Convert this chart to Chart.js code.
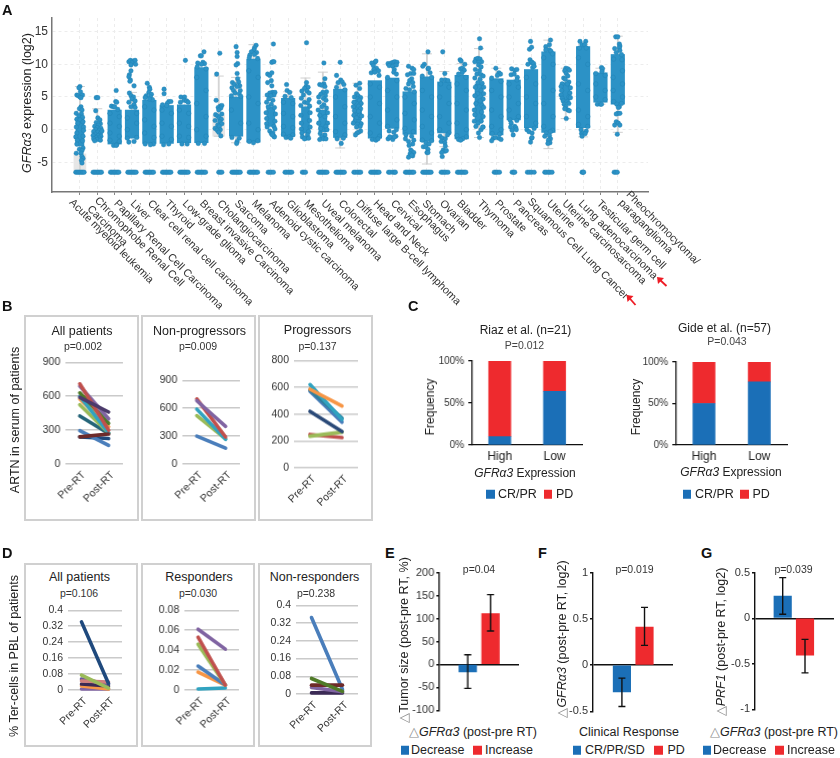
<!DOCTYPE html>
<html>
<head>
<meta charset="utf-8">
<title>GFRa3 figure</title>
<script src="https://cdn.jsdelivr.net/npm/chart.js@4/dist/chart.umd.min.js"></script>
<style>
  html, body { margin: 0; padding: 0; background: #fff; }
  #page { position: relative; width: 840px; height: 758px; overflow: hidden; font-family: "Liberation Sans", Arial, sans-serif; color: #222; }
  #page canvas { position: absolute; }
  .txt { position: absolute; white-space: nowrap; transform: translate(-50%, -50%); line-height: 1; }
  .rot { transform: translate(-50%, -50%) rotate(-90deg); }
  .letter { position: absolute; font-weight: bold; font-size: 14.5px; line-height: 1; color: #111; }
  .frame { position: absolute; border: 2px solid #d0d0d0; box-sizing: border-box; }
  .swatch { position: absolute; width: 8.5px; height: 8.5px; transform: translateY(-50%); }
  .legend-txt { position: absolute; transform: translateY(-50%); font-size: 12.5px; line-height: 1; white-space: nowrap; }
  .delta { color: #8a8a8a; }
  svg { position: absolute; left: 0; top: 0; }
</style>
</head>
<body>
<div id="page"></div>
<script>
// Panel A
const cancerTypes = ["Acute myeloid leukemia", "Chromophobe Renal Cell|Carcinoma", "Papillary Renal Cell Carcinoma", "Liver",
  "Clear cell renal cell carcinoma", "Thyroid", "Low-grade glioma", "Breast invasive Carcinoma", "Cholangiocarcinoma", "Sarcoma",
  "Melanoma", "Adenoid cystic carcinoma", "Glioblastoma", "Mesothelioma", "Uveal melanoma", "Colorectal", "Diffuse large B-cell lymphoma",
  "Head and Neck", "Cervical", "Esophagus", "Stomach", "Ovarian", "Bladder", "Thymoma", "Prostate", "Pancreas", "Squamous Cell Lung Cancer",
  "Uterine", "Uterine carcinosarcoma", "Lung adenocarcinoma", "Testicular germ cell", "Pheochromocytoma/|paraganglioma"];
const expressionTicks = [15, 10, 5, 0, -5];
const undetectedLevel = -6.5;

// dense part of each strip, [low, high]
const denseStrips = [null, null, [-2.2, 3], [-1.3, 3], [-2.1, 4.5], [-2.1, 3.7], [-2, 3.8], [-2, 9.5], null, [-1, 5], [-1.9, 10.8], null,
  [-1, 4.8], null, null, [-1.2, 6.2], null, [-1.3, 7.5], [0.2, 7.9], [-0.7, 5.8], [-1.8, 8.1], [-0.5, 7.3], [-1.4, 8.3], null, [-0.8, 7.8],
  [1.5, 7.6], [0.3, 9.2], [-0.4, 11.9], null, [0.3, 12.7], [4.2, 8.7], [3.9, 11.5]];
const thinStrips = [[-2.5, 1.8], null, null, null, null, null, null, null, null, null, null, [0.5, 3.5], null, [-0.5, 3.5], [-0.3, 3], null,
  [1.5, 4.5], null, null, null, null, null, null, [1.2, 7], null, null, null, null, [4.5, 7.2], null, null, null];

// individual samples around the strips, [offset inside the strip, log2 expression]
const stripSamples = [
  [[0,6.6],[-.1,6.4],[.05,5.8],[-.3,5.3],[-.15,5.2],[0,5],[.25,5.3],[.1,4.9],[.1,3.5],[-.05,3.2],[.2,3],[-.35,2.5],[.15,2.4],[-.1,2.1],[.25,1.9],[-.3,1.6],[0,1.5],[.3,1.2],[-.2,1],[.35,.4],[-.35,.4],[.35,-.1],[-.3,-.5],[.3,-1],[-.4,-1.1],[-.25,-1.6],[.25,-1.7],[-.3,-2.2],[.3,-2.8],[-.05,-3],[.2,-3.2],[-.35,-3.6],[.1,-3.6],[.2,-4.1],[.3,-4.4],[.15,-4.7],[.2,-5.1]],
  [[-.1,4.9],[.05,4.9],[-.15,2.9],[.05,1.8],[.25,1.5],[-.1,1.1],[.3,.9],[.1,.7],[-.25,.5],[0,.3],[.35,.2],[-.15,0],[.2,-.1],[-.35,-.3],[.05,-.4],[.3,-.6],[-.2,-.7],[-.4,-.9],[.1,-.9],[.35,-1],[-.1,-1.2],[.2,-1.3],[-.35,-1.4],[0,-1.5],[-.25,-1.7],[.3,-1.6],[.45,-.2]],
  [[.15,6],[.1,4.3],[.2,4.2],[-.3,3.6],[-.1,3.5],[0,3.5],[.3,3.1],[-.45,2.5],[.45,2],[-.45,1],[.45,.5],[-.45,-.5],[.45,-1],[-.45,-1.6],[.45,-1.8],[.2,-2.3],[-.1,-2.4],[.15,-2.4]],
  [[-.3,10.4],[-.15,10.6],[.1,10.5],[.3,10.6],[0,10.2],[-.1,9.9],[.35,10],[-.1,9],[-.25,8.4],[-.3,8.1],[-.15,7.6],[-.2,7.4],[.2,6.7],[-.25,5.6],[-.1,5.2],[.15,5],[0,4.7],[.3,4.4],[-.3,4.2],[.2,3.8],[-.1,3.5],[.3,3.4],[-.3,-1.9],[.2,-1.8],[-.45,-1.3],[.45,-1.2],[-.45,0],[.45,1],[-.45,1.8],[.45,2.5]],
  [[-.2,7.1],[0,6.5],[.05,6.2],[-.05,5.7],[.2,5.4],[-.3,5.2],[.1,5],[-.4,4.9],[.3,4.6],[0,4.7],[-.45,3.5],[.45,3],[-.45,1.5],[.45,.5],[-.45,-.5],[.45,-1.2],[-.4,-2.2],[.4,-2.2],[.1,-2.3]],
  [[-.25,6.2],[-.25,5.5],[.2,4.3],[.4,4.3],[.05,4],[-.4,3.8],[0,3.7],[-.45,3],[.45,2.5],[-.45,1],[.45,.5],[-.45,-1],[.45,-1.5],[-.3,-2.3],[.2,-2.2]],
  [[.13,10.6],[-.3,5],[.05,5],[0,4.5],[.25,4.4],[-.35,4.2],[.4,4.2],[-.45,3],[.45,2.5],[-.45,1],[.45,.5],[-.45,-1],[.45,-1.2],[-.2,-2.2],[.3,-2.2]],
  [[.25,11.9],[-.1,11.3],[0,11.3],[.15,10.3],[-.35,10.2],[.3,10.1],[0,10],[-.4,9.6],[.45,9.3],[-.45,8],[.45,6],[-.45,4],[.45,2],[-.45,0],[.45,-1],[-.3,-2.1],[.3,-2.1]],
  [[.1,11.7],[-.2,8.5],[-.25,4.5],[.15,3.6],[.3,3.7],[-.05,3.4],[.2,3.3],[0,3],[.3,2.4],[-.3,2.3],[-.1,2.1],[.05,1.8],[.25,1.6],[-.35,1.4],[.1,1.2],[.3,.9],[-.1,.7],[.05,.5],[-.35,.2],[.15,0],[-.15,-.1],[0,-.4],[.2,-.95]],
  [[0,12.7],[.1,11.8],[.1,11.2],[.15,10.1],[0,9.9],[.1,8.6],[.15,7.8],[-.35,7.2],[.25,7.3],[-.15,6.9],[.35,6.7],[-.4,6.4],[.1,6.6],[-.25,6],[.4,6],[-.1,5.6],[.3,5.5],[-.45,5.2],[.45,5.1],[-.45,3],[.45,1],[-.4,-1.2],[.3,-1.3],[.1,-1.8],[.05,-2.1]],
  [[.25,12.9],[.1,12.5],[.05,12.2],[-.2,11.9],[.3,11.8],[-.35,11.4],[.1,11.5],[-.4,11],[.4,10.9],[-.45,9],[.45,8],[-.45,5],[.45,4],[-.45,1],[.45,0],[-.4,-1.8],[.4,-1.7],[0,-2]],
  [[.25,13.1],[.2,10.4],[.1,10.3],[.3,10.4],[-.3,8.5],[-.1,8.3],[.1,8.7],[.05,7.5],[-.3,7.2],[.1,6.7],[.15,5.7],[-.1,5.6],[.4,5.7],[-.35,5.3],[.3,5.3],[0,5.2],[-.2,4.7],[.2,4.5],[-.4,4.2],[.05,3.9],[-.25,3.5],[.35,3.4],[-.45,2.6],[.45,2.4],[-.4,1.7],[.4,1.3],[-.4,.9],[.3,.5],[-.35,.4],[.4,.1],[-.1,-.2],[.05,-.6],[.2,-.5],[.3,-1],[.35,-1.1],[.15,-.8]],
  [[-.15,6.9],[-.1,6],[.15,5.7],[-.3,5.1],[.3,4.9],[-.45,4.2],[.45,4],[-.45,2.5],[.45,2],[-.45,.5],[.45,.3],[-.45,-.7],[.45,-.8],[-.2,-1.2],[.1,-1.1],[.25,-1.3]],
  [[.1,13.3],[.1,7.2],[.05,6.6],[.25,6.5],[-.1,6.3],[-.35,5.9],[.15,5.9],[.35,5.6],[-.2,5.3],[-.4,4.8],[.35,4.6],[-.1,4.2],[.2,4.1],[-.45,3.7],[.4,3.6],[.45,2.6],[-.45,2.2],[.4,1.4],[-.4,1],[.45,.4],[-.4,.1],[.3,-.3],[-.35,-.5],[.2,-.8],[-.3,-1.1],[.05,-1.3],[-.1,-1.4],[.3,-1.3]],
  [[.1,10.2],[.2,7.8],[.1,7],[-.3,6.9],[-.1,6.8],[.2,6.6],[.35,5.8],[0,5.7],[-.2,5.4],[.25,5.2],[-.4,5],[.05,4.8],[.3,4.5],[-.35,4.2],[.1,3.8],[-.1,3.5],[.35,3.3],[-.45,3],[.45,2.6],[-.3,2.2],[.2,2],[.45,1],[-.4,1],[.3,.5],[-.2,.2],[.4,0],[-.25,-.6],[.2,-.8],[-.1,-1.1],[-.3,-1.5],[.05,-1.4],[.3,-1.4]],
  [[0,10.3],[-.35,8.3],[.05,7.6],[-.2,7.2],[.2,7.3],[.35,6.9],[-.35,6.5],[.45,6.1],[-.45,5],[.45,3.5],[-.45,2],[.45,1],[-.45,-.3],[.45,-.8],[-.3,-1.4],[.3,-1.3],[.1,-2.1]],
  [[.2,7.1],[-.15,6.8],[.2,6.3],[-.1,5.5],[.05,5.2],[-.3,5],[.3,4.9],[0,4.7],[-.35,4.2],[.2,4.5],[.35,4],[-.4,3.5],[.1,3.6],[.3,3.2],[-.3,2.9],[.1,2.8],[.2,2.2],[-.35,2.2],[.4,2.1],[-.1,1.8],[-.25,1.3],[.15,1.2],[.35,.9],[-.4,1],[0,.8],[.25,.5],[-.1,.4],[.3,-.2],[.1,-.4],[-.05,-.5],[-.2,-.8]],
  [[0,10.3],[-.3,10.2],[.1,10.5],[-.15,9.8],[.15,9.4],[-.1,9.2],[.35,9],[-.35,8.7],[.4,8.3],[0,8.8],[-.45,7],[.45,6.5],[-.45,5],[.45,4],[-.45,2],[.45,1],[-.45,-.5],[.45,-1],[-.25,-1.5],[.1,-1.6],[.3,-1.4]],
  [[-.4,10.1],[-.1,10.2],[.1,10.3],[.25,10.4],[.45,10.3],[-.3,9.8],[.05,9.7],[.4,9.9],[.2,9.2],[.15,8.8],[.4,8.5],[-.45,8],[.45,7.5],[-.45,6],[.45,5],[-.45,3],[.45,1.5],[-.45,.5],[.4,0],[-.3,-.2],[.15,-.4],[.35,-1],[-.4,-1.4],[-.1,-1.2],[.05,-1.5],[.2,-1.1],[-.25,-1.1]],
  [[-.1,9.7],[.25,9.4],[.4,9.2],[.1,8.6],[.4,8.6],[-.2,8.4],[.2,7.8],[0,7.5],[.3,7.2],[-.1,7],[.35,6.6],[-.35,6.3],[0,6.1],[.45,5.8],[-.45,5],[.45,4],[-.45,2.5],[.45,1.5],[-.45,.2],[.35,-.3],[-.35,-.8],[.2,-1],[-.4,-1.4],[.4,-1.6],[-.1,-1.8],[.3,-2.2],[-.05,-2.4],[.1,-3.1],[.2,-3.3],[.4,-3.5],[.05,-3.7],[.3,-4],[-.1,-4.2],[.2,-3.9]],
  [[.1,11.9],[-.25,10],[-.4,9.7],[.1,9.3],[.15,9.4],[.3,8.7],[-.45,8.2],[.45,8],[-.45,6],[.45,5],[-.45,3],[.45,2],[-.45,.5],[.45,-.5],[-.45,-1.6],[.45,-1.7],[-.1,-2],[.2,-2.2],[-.35,-2.6],[-.1,-2.6],[.1,-3],[0,-3.5],[.1,-3.5]],
  [[-.15,11.9],[.05,8.6],[-.25,7.6],[.1,7.6],[.35,7.5],[-.35,7],[.45,6.5],[-.45,5],[.45,4],[-.45,2],[.45,1],[-.45,0],[.45,-.5],[-.4,-1],[.3,-.8],[-.2,-1.3],[.1,-1.4],[-.3,-1.8],[.05,-2],[.1,-2.5],[-.1,-3.1],[.05,-3.3],[.2,-3.2],[-.25,-3.5],[-.2,-4.1]],
  [[-.15,10.7],[-.05,10.5],[.3,10],[-.1,9.3],[.1,9.4],[.25,9.1],[.05,8.7],[-.3,8.5],[.4,8],[-.45,7],[.45,6],[-.45,4],[.45,3],[-.45,1],[.45,0],[-.45,-.9],[.45,-1.1],[-.3,-1.5],[.1,-1.4],[-.1,-1.6]],
  [[.05,13.9],[.15,12.5],[-.3,10.8],[-.1,10.9],[.1,10.8],[-.4,10.4],[.25,10.4],[0,10.3],[-.05,9.9],[.2,9.6],[-.35,9.2],[.05,9],[-.2,8.5],[.2,8.4],[.4,8.2],[-.4,7.9],[.1,7.7],[-.1,7.2],[.3,7.1],[.45,6.5],[-.35,6.5],[.2,6],[-.15,5.5],[.45,5.5],[-.4,5.2],[.4,4.7],[.1,4.4],[-.3,4],[.3,3.7],[.45,3.4],[-.45,3],[.25,2.7],[-.4,2.3],[.4,2],[-.45,1.3],[.2,1.3],[-.1,1],[.4,.4],[-.3,.5],[.2,0],[-.05,-.5],[.35,.4],[.05,-1.2]],
  [[-.05,9.4],[.25,8.7],[.4,8.5],[.1,8.3],[-.45,7.9],[.45,7.4],[-.45,6],[.45,5],[-.45,3],[.45,2],[-.45,.5],[.45,0],[-.4,-.6],[.3,-.7],[-.3,-1.3],[.25,-1.3],[-.1,-1.2],[.45,-1.5],[-.45,-1.7]],
  [[-.2,9.3],[.1,9.1],[.3,9.2],[-.25,8.4],[.05,8.5],[.35,8],[.3,7.6],[-.45,7],[.45,6.5],[-.45,5],[.45,4],[-.45,3],[.45,2],[-.35,1.5],[.3,1.4],[-.25,1],[.1,.5],[-.3,.4],[.2,.3],[-.15,-.1],[.25,0],[-.05,-.8]],
  [[-.05,13.5],[-.15,12.3],[.05,12.6],[-.1,10.7],[0,10.3],[.1,10.3],[.25,10.1],[-.3,10],[.15,9.5],[.3,9.7],[-.45,8],[.45,7],[-.45,5],[.45,4],[-.45,2],[.45,1],[-.4,0],[.3,.2],[-.2,-.3],[.1,-.5],[.05,-1.3],[.1,-1.2],[-.05,-1.9]],
  [[.2,13.7],[.1,13],[-.25,12.7],[.1,12.2],[-.25,12.2],[.25,12],[.4,11.6],[-.45,11],[.45,10],[-.45,8],[.45,6],[-.45,4],[.45,2],[-.45,.5],[.4,-.1],[-.2,-.5],[.2,-.3],[-.35,-1],[.1,-.9],[.2,-1.4],[0,-1.6],[.15,-2],[-.05,-2.1]],
  [[0,9.4],[.2,9.3],[.35,9.1],[-.1,9],[.05,8.6],[.2,8.2],[-.2,7.9],[-.05,7.7],[.3,7.3],[-.35,7],[.15,7],[-.45,6.6],[.45,6.4],[-.4,6],[.4,5.6],[-.45,5.3],[.3,5],[-.35,4.8],[.45,4.9],[-.25,4.4],[.15,4.3],[-.15,3.9],[.3,4],[0,3.5],[.2,3],[-.1,3.2],[.35,2.9],[.05,1.7]],
  [[-.3,13.5],[.25,13.5],[-.1,13],[.15,13],[-.35,12.5],[.3,12.5],[-.45,11],[.45,10],[-.45,7],[.45,6],[-.45,3],[.45,2],[-.45,.8],[.45,.5],[-.2,0],[.3,-.2],[-.15,-.6],[0,-.5],[.2,-.6],[-.1,-1]],
  [[.1,9.5],[.2,9.3],[.15,8.9],[-.45,8.6],[.45,8.3],[-.45,7],[.45,6],[-.45,5],[.45,4.6],[-.3,3.9],[0,3.9],[.1,3.9]],
  [[-.2,14.2],[0,14.2],[.15,13.1],[.2,12.8],[.15,12.5],[-.3,12.4],[.2,12.1],[-.15,11.8],[.35,11.5],[.4,10.7],[-.4,10.8],[.45,9],[-.45,8],[.45,7],[-.45,6],[.45,5],[-.4,4.3],[.35,4],[-.1,3.9],[.15,3.5],[.05,3.4],[0,2.5],[-.15,2.4],[.2,2.5],[-.15,1.2],[-.3,.7],[.05,1],[.2,.7],[-.05,-.7]]
];

// samples below detection, offsets only
const fullRow = [-.4, -.27, -.13, 0, .13, .27, .4];
const undetectedRows = [fullRow, fullRow, fullRow, fullRow, fullRow, fullRow, fullRow, fullRow, [0, .15, .3], fullRow, fullRow, [-.25, -.1, .05, .25],
  [-.3, -.15, .05, .2, .35], [-.3, -.15, 0], fullRow, fullRow, [-.35, -.2, 0, .15, .3], fullRow, [-.35, -.2, .05, .2, .3], fullRow, fullRow,
  [-.3, -.15, 0, .15, .35], fullRow, [], [-.2, -.05, .1, .3], [-.15, 0, .1], [-.35, -.15, .05, .3], [-.35, -.2, 0, .15, .35], [], [-.1, 0, .05], [], [-.35, -.2, -.05]];

const whiskerRanges = [[-6.5, 6.6], [-1.5, 3.2], null, [1, 5.7], null, null, null, null, [-1, 8.2], [-2, 8], [-2, 13], null, [-1, 5.8], [-1, 7.9], [-1.5, 8.8],
  [-2.8, 7], [-0.5, 7.1], null, null, null, [-5.25, 11.6], [-2.6, 8.9], [-1.5, 10.1], [-1.2, 12.4], [-1.2, 9.4], null, null, [-2.9, 13.7], [1.7, 9.4], [-1.1, 13], [3.9, 9.4], [-0.4, 14.3]];
const boxShadeCols = [0, 8];
const boxShadeRanges = [[-6.5, -3.7], [-1, 2.2]];

// Panels B and D: each row is [pre-RT, post-RT], first row drawn on top
const treatment = ["Pre-RT", "Post-RT"];
const artnAll = [[590, 460], [240, 265], [710, 300], [690, 400], [630, 360], [600, 275], [575, 330], [525, 275], [425, 270], [295, 165], [240, 225]];
const artnAllColors = ["#4b3a6b", "#6e2a2a", "#c0504d", "#8064a2", "#4f7a28", "#31a3c0", "#f79646", "#9bbb59", "#256579", "#4a7ebb", "#1f497d"];
const artnNon = [[680, 405], [700, 290], [590, 265], [520, 270], [300, 170]];
const artnNonColors = ["#8064a2", "#c0504d", "#31a3c0", "#9bbb59", "#4a7ebb"];
const artnProg = [[585, 460], [620, 360], [580, 370], [570, 340], [420, 270], [235, 265], [248, 225]];
const artnProgColors = ["#f79646", "#31a3c0", "#2f7f9b", "#4a7ebb", "#2b4a78", "#9bbb59", "#c0504d"];
const terAll = [[.075, .01], [.342, .033], [.045, .04], [.055, .03], [.03, .02], [.02, .005], [.005, .005]];
const terAllColors = ["#9bbb59", "#1f497d", "#d07f7d", "#6a5a9a", "#3b2a55", "#f79646", "#8064a2"];
const terResp = [[.061, .041], [.053, .005], [.046, .005], [.024, .005], [.018, .005], [.001, .002]];
const terRespColors = ["#8064a2", "#c0504d", "#9bbb59", "#4a7ebb", "#f79646", "#31a3c0"];
const terNon = [[.07, .012], [.04, .04], [.345, .02], [.03, .01], [.005, .005]];
const terNonColors = ["#4f7a28", "#6e2a2a", "#4a7ebb", "#8064a2", "#3b2a55"];
const artnAllTicks = [0, 300, 600, 900];
const artnProgTicks = [0, 200, 400, 600, 800];
const terTicks = [0, .08, .16, .24, .32, .4];
const terRespTicks = [0, .02, .04, .06, .08];

// Panel C
const expressionGroups = ["High", "Low"];
const riazResponse = [10, 64];
const riazProgress = [90, 36];
const gideResponse = [50, 76];
const gideProgress = [50, 24];
const freqTicks = [0, 50, 100];

// Panels E, F, G
const tumorChange = [-16, 111];
const tumorErrLow = [-52, 73];
const tumorErrHigh = [21, 152];
const tumorTicks = [-100, -50, 0, 50, 100, 150, 200];
const gfraChange = [-.29, .41];
const gfraErrLow = [-.447, .213];
const gfraErrHigh = [-.14, .624];
const gfraTicks = [-.5, 0, .5, 1];
const prf1Change = [.242, -.406];
const prf1ErrLow = [.043, -.6];
const prf1ErrHigh = [.445, -.232];
const prf1Ticks = [-1, -.5, 0, .5];

const BLUE = "#1b6fb7";
const RED = "#ee2a2e";
const STRIP = "#2c92c6";
const STRIP_SPREAD = 0.6; // sample offsets above are fractions of this strip width
const page = document.getElementById("page");
const FONT = "Liberation Sans";

Chart.defaults.font.family = FONT;
Chart.defaults.color = "#222";
Chart.defaults.animation = false;

function text(html, x, y, size, extra) {
  const el = document.createElement("div");
  el.className = "txt" + (extra && extra.rot ? " rot" : "");
  el.style.left = x + "px";
  el.style.top = y + "px";
  el.style.fontSize = size + "px";
  if (extra && extra.color) el.style.color = extra.color;
  el.innerHTML = html;
  page.appendChild(el);
}

function letter(ch, x, y) {
  const el = document.createElement("div");
  el.className = "letter";
  el.style.left = x + "px";
  el.style.top = y + "px";
  el.textContent = ch;
  page.appendChild(el);
}

function frame(l, t, r, b) {
  const el = document.createElement("div");
  el.className = "frame";
  el.style.cssText = `left:${l}px;top:${t}px;width:${r - l}px;height:${b - t}px`;
  page.appendChild(el);
}

function legendItem(label, color, sx, tx, y) {
  const sw = document.createElement("div");
  sw.className = "swatch";
  sw.style.cssText = `left:${sx}px;top:${y}px;background:${color}`;
  page.appendChild(sw);
  const el = document.createElement("div");
  el.className = "legend-txt";
  el.style.cssText = `left:${tx}px;top:${y}px`;
  el.textContent = label;
  page.appendChild(el);
}

// plot = wanted chart area in page pixels, margins = room around it for the axes
function addChart(plot, margins, config) {
  const [ml, mt, mr, mb] = margins;
  const canvas = document.createElement("canvas");
  const w = plot.r - plot.l + ml + mr;
  const h = plot.b - plot.t + mt + mb;
  canvas.width = w;
  canvas.height = h;
  canvas.style.left = (plot.l - ml) + "px";
  canvas.style.top = (plot.t - mt) + "px";
  canvas.style.width = w + "px";
  canvas.style.height = h + "px";
  page.appendChild(canvas);
  const scales = config.options.scales;
  scales.y.afterFit = (axis) => { axis.width = ml; };
  let bottomPad = mb;
  if (scales.x.display !== false) {
    scales.x.afterFit = (axis) => { axis.height = mb; };
    bottomPad = 0;
  }
  config.options.responsive = false;
  config.options.maintainAspectRatio = false;
  config.options.layout = { padding: { left: 0, top: mt, right: mr, bottom: bottomPad } };
  config.options.plugins = Object.assign({ legend: { display: false }, tooltip: { enabled: false } }, config.options.plugins);
  return new Chart(canvas.getContext("2d"), config);
}

function fixedTicks(values) {
  return (axis) => { axis.ticks = values.map((value) => ({ value })); };
}

// slope panels of B and D
function slopeChart(plot, rows, colors, yTicks) {
  const top = Math.max(...yTicks);
  addChart(plot, [44, 10, 10, 50], {
    type: "line",
    data: {
      labels: treatment,
      datasets: rows.map((row, i) => ({
        data: row,
        borderColor: colors[i],
        borderWidth: 3.6,
        borderCapStyle: "round",
        pointRadius: 0,
      })),
    },
    options: {
      clip: false,
      scales: {
        x: {
          offset: true,
          grid: { display: false, drawTicks: false },
          border: { display: false },
          ticks: { minRotation: 45, maxRotation: 45, autoSkip: false, padding: 5, labelOffset: 4, font: { size: 10.5 }, color: "#333" },
        },
        y: {
          min: 0,
          max: top,
          afterBuildTicks: fixedTicks(yTicks),
          grid: { color: "#cacaca", lineWidth: 1.5, drawTicks: false },
          border: { display: false },
          ticks: { padding: 5, font: { size: 10.5 }, color: "#333", callback: (v) => String(v) },
        },
      },
    },
  });
}

// stacked bars of C
function stackedChart(plot, response, progress) {
  addChart(plot, [50, 10, 10, 30], {
    type: "bar",
    data: {
      labels: expressionGroups,
      datasets: [
        { label: "CR/PR", data: response, backgroundColor: BLUE, barThickness: 22 },
        { label: "PD", data: progress, backgroundColor: RED, barThickness: 22 },
      ],
    },
    options: {
      scales: {
        x: {
          stacked: true,
          grid: { display: false, drawTicks: false },
          border: { color: "#111", width: 1.3 },
          ticks: { padding: 4, font: { size: 12 }, color: "#222" },
        },
        y: {
          stacked: true,
          min: 0,
          max: 100,
          afterBuildTicks: fixedTicks(freqTicks),
          grid: { drawOnChartArea: false, color: "#111", tickLength: 4, lineWidth: 1.3 },
          border: { color: "#111", width: 1.3 },
          ticks: { padding: 4, font: { size: 10 }, color: "#333", callback: (v) => v + "%" },
        },
      },
    },
  });
}

const errorBars = {
  id: "errorBars",
  afterDatasetsDraw(chart) {
    const { ctx, scales } = chart;
    const ds = chart.data.datasets[0];
    ctx.save();
    ctx.strokeStyle = "#111";
    ctx.lineWidth = 1.4;
    ds.data.forEach((pt, i) => {
      const x = scales.x.getPixelForValue(pt.x);
      const lo = scales.y.getPixelForValue(ds.errLow[i]);
      const hi = scales.y.getPixelForValue(ds.errHigh[i]);
      ctx.beginPath();
      ctx.moveTo(x, lo);
      ctx.lineTo(x, hi);
      ctx.moveTo(x - 3.5, lo);
      ctx.lineTo(x + 3.5, lo);
      ctx.moveTo(x - 3.5, hi);
      ctx.lineTo(x + 3.5, hi);
      ctx.stroke();
    });
    ctx.restore();
  },
};

// bars with error bars of E, F, G
function changeChart(plot, xRange, values, errLow, errHigh, yTicks) {
  addChart(plot, [44, 8, 4, 6], {
    type: "bar",
    plugins: [errorBars],
    data: {
      datasets: [{
        data: values.map((y, i) => ({ x: i + 1, y })),
        errLow,
        errHigh,
        backgroundColor: [BLUE, RED],
        barThickness: 17.5,
      }],
    },
    options: {
      scales: {
        x: { type: "linear", display: false, offset: false, min: xRange[0], max: xRange[1], grid: { offset: false } },
        y: {
          min: yTicks[0],
          max: yTicks[yTicks.length - 1],
          afterBuildTicks: fixedTicks(yTicks),
          grid: {
            color: (c) => (c.tick && c.tick.value === 0 ? "#111" : "rgba(0,0,0,0)"),
            tickColor: "#111",
            lineWidth: 1.4,
            tickLength: 3,
          },
          border: { color: "#111", width: 1.4 },
          ticks: { padding: 2, font: { size: 11 }, color: "#333", callback: (v) => String(v) },
        },
      },
    },
  });
}

// Panel A: category names run down from the ticks, which the library has no setting for
const labelNudge = { 0: [-9, -1], 1: [-1, -3], 2: [1, 0], 20: [-3, 0], 21: [-3, 0], 22: [-3, 0], 25: [1, 0], 26: [-2, -2], 28: [-2, 0], 29: [-3, 0], 30: [-2, 0], 31: [10, -9] };
const cancerLabels = {
  id: "cancerLabels",
  afterDraw(chart) {
    const { ctx, scales } = chart;
    ctx.save();
    ctx.font = `10.8px "${FONT}"`;
    ctx.fillStyle = "#333";
    ctx.textBaseline = "middle";
    cancerTypes.forEach((name, i) => {
      const nudge = labelNudge[i] || [0, 0];
      const x = scales.x.getPixelForValue(i) + nudge[0];
      const y = 202 + nudge[1];
      name.split("|").forEach((line, n) => {
        ctx.save();
        ctx.translate(x - n * 7.5, y + n * 8.5);
        ctx.rotate(Math.PI / 4);
        ctx.fillText(line, 0, 0);
        ctx.restore();
      });
    });
    ctx.restore();
  },
};

const columns = cancerTypes.map((_, i) => i);
const toBars = (ranges) => ranges.map((r, i) => (r ? { x: i, y: r } : null)).filter(Boolean);
const sampleDots = stripSamples.flatMap((col, i) => col.map(([dx, y]) => ({ x: i + dx * STRIP_SPREAD, y })));
const undetectedDots = undetectedRows.flatMap((row, i) => row.map((dx) => ({ x: i + dx * STRIP_SPREAD, y: undetectedLevel })));
const whiskerCaps = whiskerRanges.flatMap((r, i) => (r ? [{ x: i, y: r[0] }, { x: i, y: r[1] }] : []));

const dotStyle = { type: "scatter", backgroundColor: STRIP, borderColor: "rgba(30,125,175,0.7)", borderWidth: 0.5, pointRadius: 2.3 };
const barStyle = { type: "bar", grouped: false, barPercentage: 1, categoryPercentage: 1 };

addChart({ l: 52, t: 18, r: 648, b: 192 }, [52, 18, 72, 128], {
  type: "scatter",
  plugins: [cancerLabels],
  data: {
    datasets: [
      { ...dotStyle, data: sampleDots },
      { ...dotStyle, data: undetectedDots },
      { ...barStyle, data: toBars(denseStrips), backgroundColor: STRIP, maxBarThickness: 13.5 },
      { ...barStyle, data: toBars(thinStrips), backgroundColor: STRIP, maxBarThickness: 8 },
      { type: "scatter", data: whiskerCaps, pointStyle: "line", pointRadius: 5, borderColor: "#cfcfcf", borderWidth: 1 },
      { ...barStyle, data: toBars(whiskerRanges), backgroundColor: "#d4d4d4", maxBarThickness: 1.2 },
      { ...barStyle, data: boxShadeCols.map((x, i) => ({ x, y: boxShadeRanges[i] })), backgroundColor: "#e6e6e6", maxBarThickness: 12 },
    ],
  },
  options: {
    scales: {
      x: {
        type: "linear",
        offset: false,
        min: -1.61,
        max: 32.74,
        afterBuildTicks: fixedTicks(columns),
        grid: { offset: false, color: "#ececec", tickColor: "#888", tickLength: 3, lineWidth: 1 },
        border: { color: "#777", width: 1.5, dash: [3, 3] },
        ticks: { display: false },
      },
      y: {
        min: -9.53,
        max: 17.08,
        afterBuildTicks: fixedTicks(expressionTicks),
        grid: { color: "#ececec", drawTicks: false, lineWidth: 1 },
        border: { color: "#777", width: 1.5, dash: [3, 3] },
        ticks: { padding: 4, font: { size: 12 }, color: "#333", callback: (v) => String(v) },
      },
    },
  },
});

// frames
frame(23.5, 315, 138.5, 521);
frame(141, 315, 256, 521);
frame(258, 315, 373, 521);
frame(23.5, 563, 138, 747);
frame(140.5, 563, 254.5, 747);
frame(257.5, 563, 372, 747);

slopeChart({ l: 65, t: 361.3, r: 122.7, b: 464.3 }, artnAll, artnAllColors, artnAllTicks);
slopeChart({ l: 182.3, t: 378.7, r: 240, b: 464.3 }, artnNon, artnNonColors, artnAllTicks);
slopeChart({ l: 294, t: 359, r: 358.3, b: 467.7 }, artnProg, artnProgColors, artnProgTicks);
slopeChart({ l: 67.7, t: 609, r: 122, b: 690 }, terAll, terAllColors, terTicks);
slopeChart({ l: 184.3, t: 609, r: 239, b: 690 }, terResp, terRespColors, terRespTicks);
slopeChart({ l: 296, t: 604, r: 358, b: 694 }, terNon, terNonColors, terTicks);

stackedChart({ l: 472, t: 361.3, r: 581.7, b: 445.3 }, riazResponse, riazProgress);
stackedChart({ l: 676.3, t: 361.7, r: 786.7, b: 445.3 }, gideResponse, gideProgress);

changeChart({ l: 439.3, t: 572, r: 519, b: 713 }, [-0.246, 3.25], tumorChange, tumorErrLow, tumorErrHigh, tumorTicks);
changeChart({ l: 593.3, t: 572, r: 673.3, b: 714 }, [-0.279, 3.26], gfraChange, gfraErrLow, gfraErrHigh, gfraTicks);
changeChart({ l: 755, t: 572, r: 834, b: 712.3 }, [-0.242, 3.3], prf1Change, prf1ErrLow, prf1ErrHigh, prf1Ticks);

// panel letters
letter("A", 2, 3);
letter("B", 2, 299);
letter("C", 408, 299);
letter("D", 2, 546);
letter("E", 385, 546);
letter("F", 538, 546);
letter("G", 701, 546);

const gfra = "<i>GFRα3</i>";
const delta = '<span class="delta">△</span>';

text(gfra + " expression (log2)", 26.5, 103, 12.5, { rot: true });

text("ARTN in serum of patients", 14.5, 420, 12.5, { rot: true });
text("All patients", 82, 331, 12.5);
text("p=0.002", 83, 346, 10.5, { color: "#333" });
text("Non-progressors", 199.5, 331, 12.5);
text("p=0.009", 198, 346, 10.5, { color: "#333" });
text("Progressors", 317.5, 330, 12.5);
text("p=0.137", 317.5, 346, 10.5, { color: "#333" });

text("% Ter-cells in PBL of patients", 14, 655.5, 12.5, { rot: true });
text("All patients", 79.5, 577, 12.5);
text("p=0.106", 79, 593, 10.5, { color: "#333" });
text("Responders", 199, 577, 12.5);
text("p=0.030", 198, 593, 10.5, { color: "#333" });
text("Non-responders", 314.5, 577, 12.5);
text("p=0.238", 316, 593, 10.5, { color: "#333" });

text("Riaz et al. (n=21)", 525.5, 330, 12);
text("P=0.012", 524.5, 345, 10.5, { color: "#444" });
text("Frequency", 430, 407, 12, { rot: true });
text(gfra + " Expression", 525, 473, 12);
legendItem("CR/PR", BLUE, 486, 498, 494);
legendItem("PD", RED, 543.5, 556, 494);

text("Gide et al. (n=57)", 724.5, 328, 12);
text("P=0.043", 727, 341, 10.5, { color: "#444" });
text("Frequency", 636, 407, 12, { rot: true });
text(gfra + " Expression", 731, 471.5, 12);
legendItem("CR/PR", BLUE, 682.5, 695, 494);
legendItem("PD", RED, 740, 752.5, 494);

text("p=0.04", 479, 569, 10.5, { color: "#333" });
text(delta + "Tumor size (post-pre RT, %)", 404, 640, 12.5, { rot: true });
text(delta + gfra + " (post-pre RT)", 473, 732, 12.5);
legendItem("Decrease", BLUE, 400.5, 411, 750);
legendItem("Increase", RED, 473, 485, 750);

text("p=0.019", 634.5, 569, 10.5, { color: "#333" });
text(delta + gfra + " (post-pre RT, log2)", 561.5, 639, 12.5, { rot: true });
text("Clinical Response", 629, 732, 12.5);
legendItem("CR/PR/SD", BLUE, 572.5, 585, 750);
legendItem("PD", RED, 654, 667.5, 750);

text("p=0.039", 793.5, 569, 10.5, { color: "#333" });
text(delta + "<i>PRF1</i> (post-pre RT, log2)", 720.5, 641.5, 12.5, { rot: true });
text(delta + gfra + " (post-pre RT)", 774, 732, 12.5);
legendItem("Decrease", BLUE, 702.5, 713, 750);
legendItem("Increase", RED, 775, 787, 750);

// red arrows next to the two lung cancer labels
page.insertAdjacentHTML("beforeend", `
<svg width="840" height="758" xmlns="http://www.w3.org/2000/svg">
  <g stroke="#ee1c25" stroke-width="1.8" fill="#ee1c25">
    <line x1="666.5" y1="286" x2="659" y2="279"/>
    <polygon points="657,277 664,278 658,284" stroke="none"/>
    <line x1="635.5" y1="305" x2="628.5" y2="297"/>
    <polygon points="626.5,295 633.5,296 627.5,302" stroke="none"/>
  </g>
</svg>`);
</script>
</body>
</html>
